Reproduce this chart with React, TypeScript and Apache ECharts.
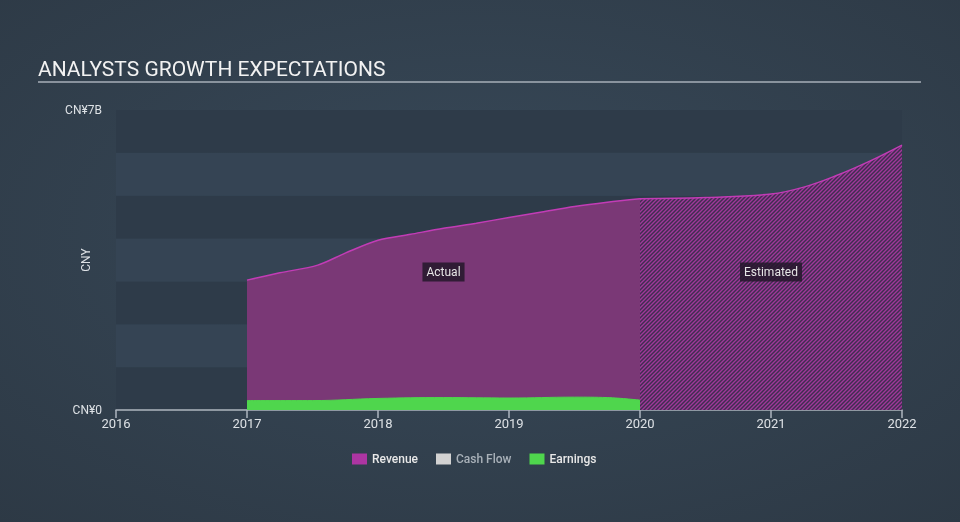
import React, { useEffect, useRef } from "react";
import * as echarts from "echarts";

// ---- data (values in CN¥ billions) ----
const years = [2016, 2017, 2018, 2019, 2020, 2021, 2022];
const revenueActualX = [2017.0, 2017.25, 2017.54, 2017.75, 2018.0, 2018.25, 2018.5, 2018.75, 2019.0, 2019.25, 2019.5, 2019.75, 2020.0];
const revenueActualY = [3.03, 3.2, 3.38, 3.66, 3.96, 4.1, 4.24, 4.36, 4.49, 4.62, 4.75, 4.85, 4.93];
const revenueEstX = [2020.0, 2020.5, 2021.0, 2021.25, 2021.5, 2021.75, 2022.0];
const revenueEstY = [4.93, 4.96, 5.04, 5.2, 5.47, 5.8, 6.18];
const earningsX = [2017.0, 2017.5, 2018.0, 2018.5, 2019.0, 2019.5, 2019.75, 2020.0];
const earningsY = [0.22, 0.22, 0.27, 0.29, 0.28, 0.3, 0.29, 0.23];
const yMax = 7;
const labelActual = { x: 2018.5, y: 3.22, text: "Actual" };
const labelEstimated = { x: 2021.0, y: 3.22, text: "Estimated" };

const zip = (xs: number[], ys: number[]) => xs.map((x, i) => [x, ys[i]]);

function makeHatch(): HTMLCanvasElement {
  const s = 4;
  const c = document.createElement("canvas");
  c.width = s;
  c.height = s;
  const ctx = c.getContext("2d")!;
  ctx.fillStyle = "#3f2d50";
  ctx.fillRect(0, 0, s, s);
  ctx.strokeStyle = "#a0389a";
  ctx.lineWidth = 1.4;
  ctx.beginPath();
  ctx.moveTo(0, s);
  ctx.lineTo(s, 0);
  ctx.moveTo(-s / 2, s / 2);
  ctx.lineTo(s / 2, -s / 2);
  ctx.moveTo(s / 2, s + s / 2);
  ctx.lineTo(s + s / 2, s / 2);
  ctx.stroke();
  return c;
}

export default function App() {
  const ref = useRef<HTMLDivElement>(null);
  useEffect(() => {
    const chart = echarts.init(ref.current!, undefined, { renderer: "svg" });
    const font = "Roboto, 'Noto Sans', sans-serif";
    const labelBox = (t: { x: number; y: number; text: string }) => ({
      coord: [t.x, t.y],
      symbolSize: 0,
      label: {
        show: true,
        position: "inside",
        formatter: t.text,
        color: "#e6e6e6",
        fontSize: 12,
        fontFamily: font,
        backgroundColor: "rgba(38,24,44,0.88)",
        padding: [4, 4, 3, 4],
      },
    });
    chart.setOption({
      animation: false,
      backgroundColor: {
        type: "radial",
        x: 0.5,
        y: 0.45,
        r: 0.75,
        colorStops: [
          { offset: 0, color: "#384959" },
          { offset: 1, color: "#2d3945" },
        ],
      },
      textStyle: { fontFamily: font },
      title: {
        text: "ANALYSTS GROWTH EXPECTATIONS",
        left: 33,
        top: 53,
        textStyle: { color: "#f2f2f2", fontSize: 21, fontWeight: "normal", fontFamily: font },
      },
      graphic: [
        {
          type: "line",
          shape: { x1: 38, y1: 82, x2: 921, y2: 82 },
          style: { stroke: "#a7afb8", lineWidth: 1.5 },
        },
      ],
      legend: {
        bottom: 52,
        left: 347,
        icon: "rect",
        itemWidth: 15,
        itemHeight: 11,
        itemGap: 18,
        itemStyle: { borderWidth: 0 },
        data: [
          { name: "Revenue", textStyle: { color: "#e8e8e8" } },
          { name: "Cash Flow", textStyle: { color: "#a9b1b9" } },
          { name: "Earnings", textStyle: { color: "#e8e8e8" } },
        ],
        textStyle: { fontSize: 12, fontFamily: font, fontWeight: 500 },
      },
      grid: { left: 116, right: 58, top: 110, bottom: 112 },
      xAxis: {
        type: "value",
        min: years[0],
        max: years[years.length - 1],
        interval: 1,
        axisLine: { show: true, lineStyle: { color: "#aeb6bf", width: 1.5 } },
        axisTick: { show: true, length: 8, lineStyle: { color: "#aeb6bf", width: 1.5 } },
        axisLabel: { color: "#dde1e5", fontSize: 13, margin: 7, formatter: (v: number) => String(v) },
        splitLine: { show: false },
      },
      yAxis: {
        type: "value",
        min: 0,
        max: yMax,
        interval: 1,
        name: "CNY",
        nameLocation: "middle",
        nameGap: 24,
        nameMoveOverlap: false,
        nameTextStyle: { color: "#dde1e5", fontSize: 12 },
        axisLine: { show: false },
        axisTick: { show: false },
        axisLabel: {
          color: "#dde1e5",
          fontSize: 12,
          margin: 14,
          formatter: (v: number) => (v === 0 ? "CN¥0" : v === yMax ? "CN¥7B" : ""),
        },
        splitLine: { show: false },
        splitArea: { show: true, areaStyle: { color: ["#2e3b49", "#354454"] } },
      },
      series: [
        {
          name: "Revenue",
          type: "line",
          data: zip(revenueActualX, revenueActualY),
          smooth: 0.3,
          showSymbol: false,
          color: "#ad35a2",
          lineStyle: { color: "#c23cb6", width: 1.5 },
          areaStyle: { color: "#7a3876", opacity: 1 },
          z: 2,
          markPoint: { symbolSize: 0, data: [labelBox(labelActual)] },
        },
        {
          name: "Revenue",
          type: "line",
          data: zip(revenueEstX, revenueEstY),
          smooth: 0.4,
          showSymbol: false,
          color: "#ad35a2",
          lineStyle: { color: "#c23cb6", width: 1.5 },
          areaStyle: { color: { image: makeHatch(), repeat: "repeat" }, opacity: 1 },
          z: 2,
          markPoint: { symbolSize: 0, data: [labelBox(labelEstimated)] },
        },
        {
          name: "Cash Flow",
          type: "line",
          data: [],
          color: "#d2d2d2",
        },
        {
          name: "Earnings",
          type: "line",
          data: zip(earningsX, earningsY),
          smooth: 0.4,
          showSymbol: false,
          color: "#4fd64d",
          lineStyle: { color: "#4fd64d", width: 1 },
          areaStyle: { color: "#4fd64d", opacity: 1 },
          z: 3,
        },
      ],
    });
    return () => chart.dispose();
  }, []);
  return <div ref={ref} style={{ position: "fixed", left: 0, top: 0, width: 960, height: 522 }} />;
}
